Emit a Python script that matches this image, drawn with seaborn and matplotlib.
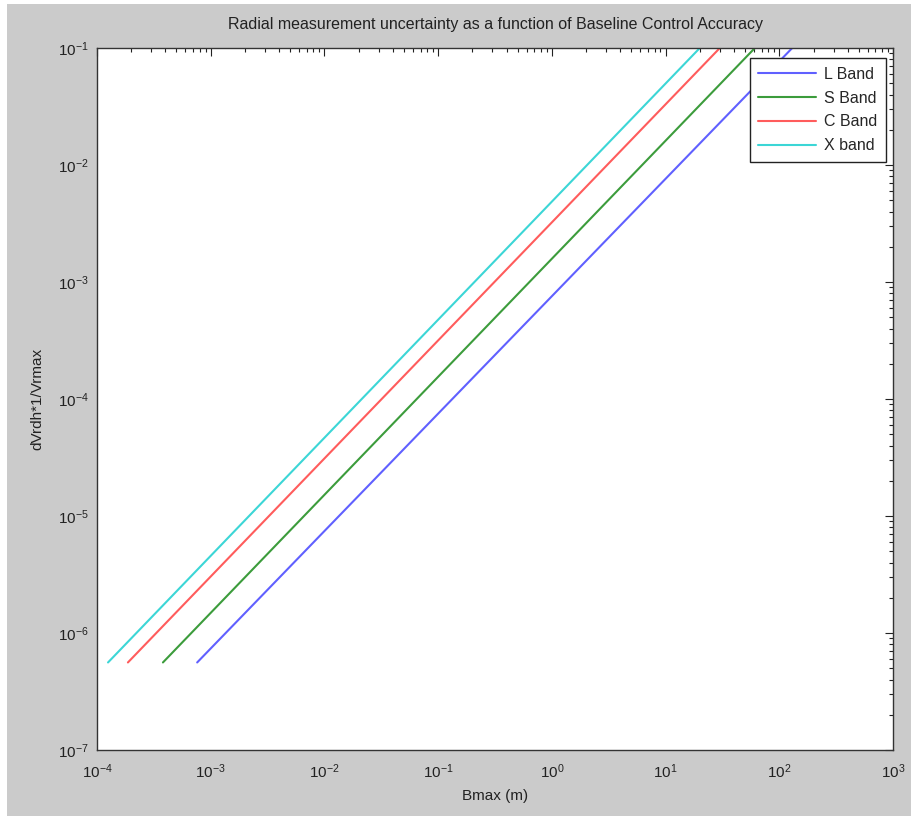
import numpy as np
import pandas as pd
import matplotlib
matplotlib.use("Agg")
import matplotlib.pyplot as plt
import matplotlib.ticker as mticker
from matplotlib.patches import Rectangle
import seaborn as sns

# Data (line endpoints, log-log straight lines)
bands = ["L Band", "S Band", "C Band", "X band"]
bmax_start = [7.6e-4, 3.8e-4, 1.87e-4, 1.25e-4]
bmax_end = [130.0, 61.0, 30.0, 20.0]
dv_start = [5.6e-7, 5.6e-7, 5.6e-7, 5.6e-7]
dv_end = [0.1, 0.1, 0.1, 0.1]
colors = ["#6060ff", "#3c9c3c", "#ff5c5c", "#3cd6d6"]

rows = []
for b, xs, xe, ys, ye in zip(bands, bmax_start, bmax_end, dv_start, dv_end):
    rows.append({"band": b, "Bmax": xs, "dv": ys})
    rows.append({"band": b, "Bmax": xe, "dv": ye})
df = pd.DataFrame(rows)

sns.set_theme(style="white")
plt.rcParams["font.family"] = ["Liberation Sans", "DejaVu Sans"]

W, H = 912, 816
fig = plt.figure(figsize=(W / 100, H / 100), dpi=100, facecolor="white")
fig.patches.append(Rectangle((7 / W, 0), 1 - 7 / W, 1 - 4 / H, transform=fig.transFigure,
                             facecolor="#cbcbcb", edgecolor="none", zorder=-10))
ax = fig.add_axes([97 / W, 1 - 750 / H, (893 - 97) / W, (750 - 48) / H])
ax.set_facecolor("white")

sns.lineplot(data=df, x="Bmax", y="dv", hue="band", hue_order=bands,
             palette=colors, linewidth=1.5, ax=ax, legend=True)

ax.set_xscale("log")
ax.set_yscale("log")
ax.set_xlim(1e-4, 1e3)
ax.set_ylim(1e-7, 1e-1)

ax.xaxis.set_major_locator(mticker.LogLocator(base=10, numticks=20))
ax.yaxis.set_major_locator(mticker.LogLocator(base=10, numticks=20))
ax.xaxis.set_minor_locator(mticker.LogLocator(base=10, subs=np.arange(2, 10), numticks=20))
ax.yaxis.set_minor_locator(mticker.LogLocator(base=10, subs=np.arange(2, 10), numticks=20))
ax.xaxis.set_minor_formatter(mticker.NullFormatter())
ax.yaxis.set_minor_formatter(mticker.NullFormatter())

ax.tick_params(which="both", direction="in", top=True, right=True, colors="#222222",
               labelcolor="#222222", labelsize=11)
ax.tick_params(which="major", length=6, width=0.8)
ax.tick_params(which="minor", length=3, width=0.8)
ax.tick_params(axis="x", which="major", pad=9)
ax.tick_params(axis="y", which="major", pad=6)
for s in ax.spines.values():
    s.set_color("#333333")
    s.set_linewidth(1.0)

ax.set_xlabel("Bmax (m)", fontsize=11, color="#222222", labelpad=6)
ax.set_ylabel("dVrdh*1/Vrmax", fontsize=11, color="#222222", labelpad=10)
ax.set_title("Radial measurement uncertainty as a function of Baseline Control Accuracy",
             fontsize=11.5, color="#222222", pad=14)

leg = ax.legend(loc="upper right", bbox_to_anchor=((886 - 97) / 796, (750 - 58) / 702),
                fontsize=11.5, frameon=True, fancybox=False, borderaxespad=0,
                handlelength=3.6, labelspacing=0.55, borderpad=0.55, handletextpad=0.5)
leg.get_frame().set_edgecolor("#222222")
leg.get_frame().set_linewidth(1.0)
leg.get_frame().set_facecolor("white")
leg.get_frame().set_alpha(1)

fig.savefig("out.png", dpi=100, facecolor=fig.get_facecolor())
